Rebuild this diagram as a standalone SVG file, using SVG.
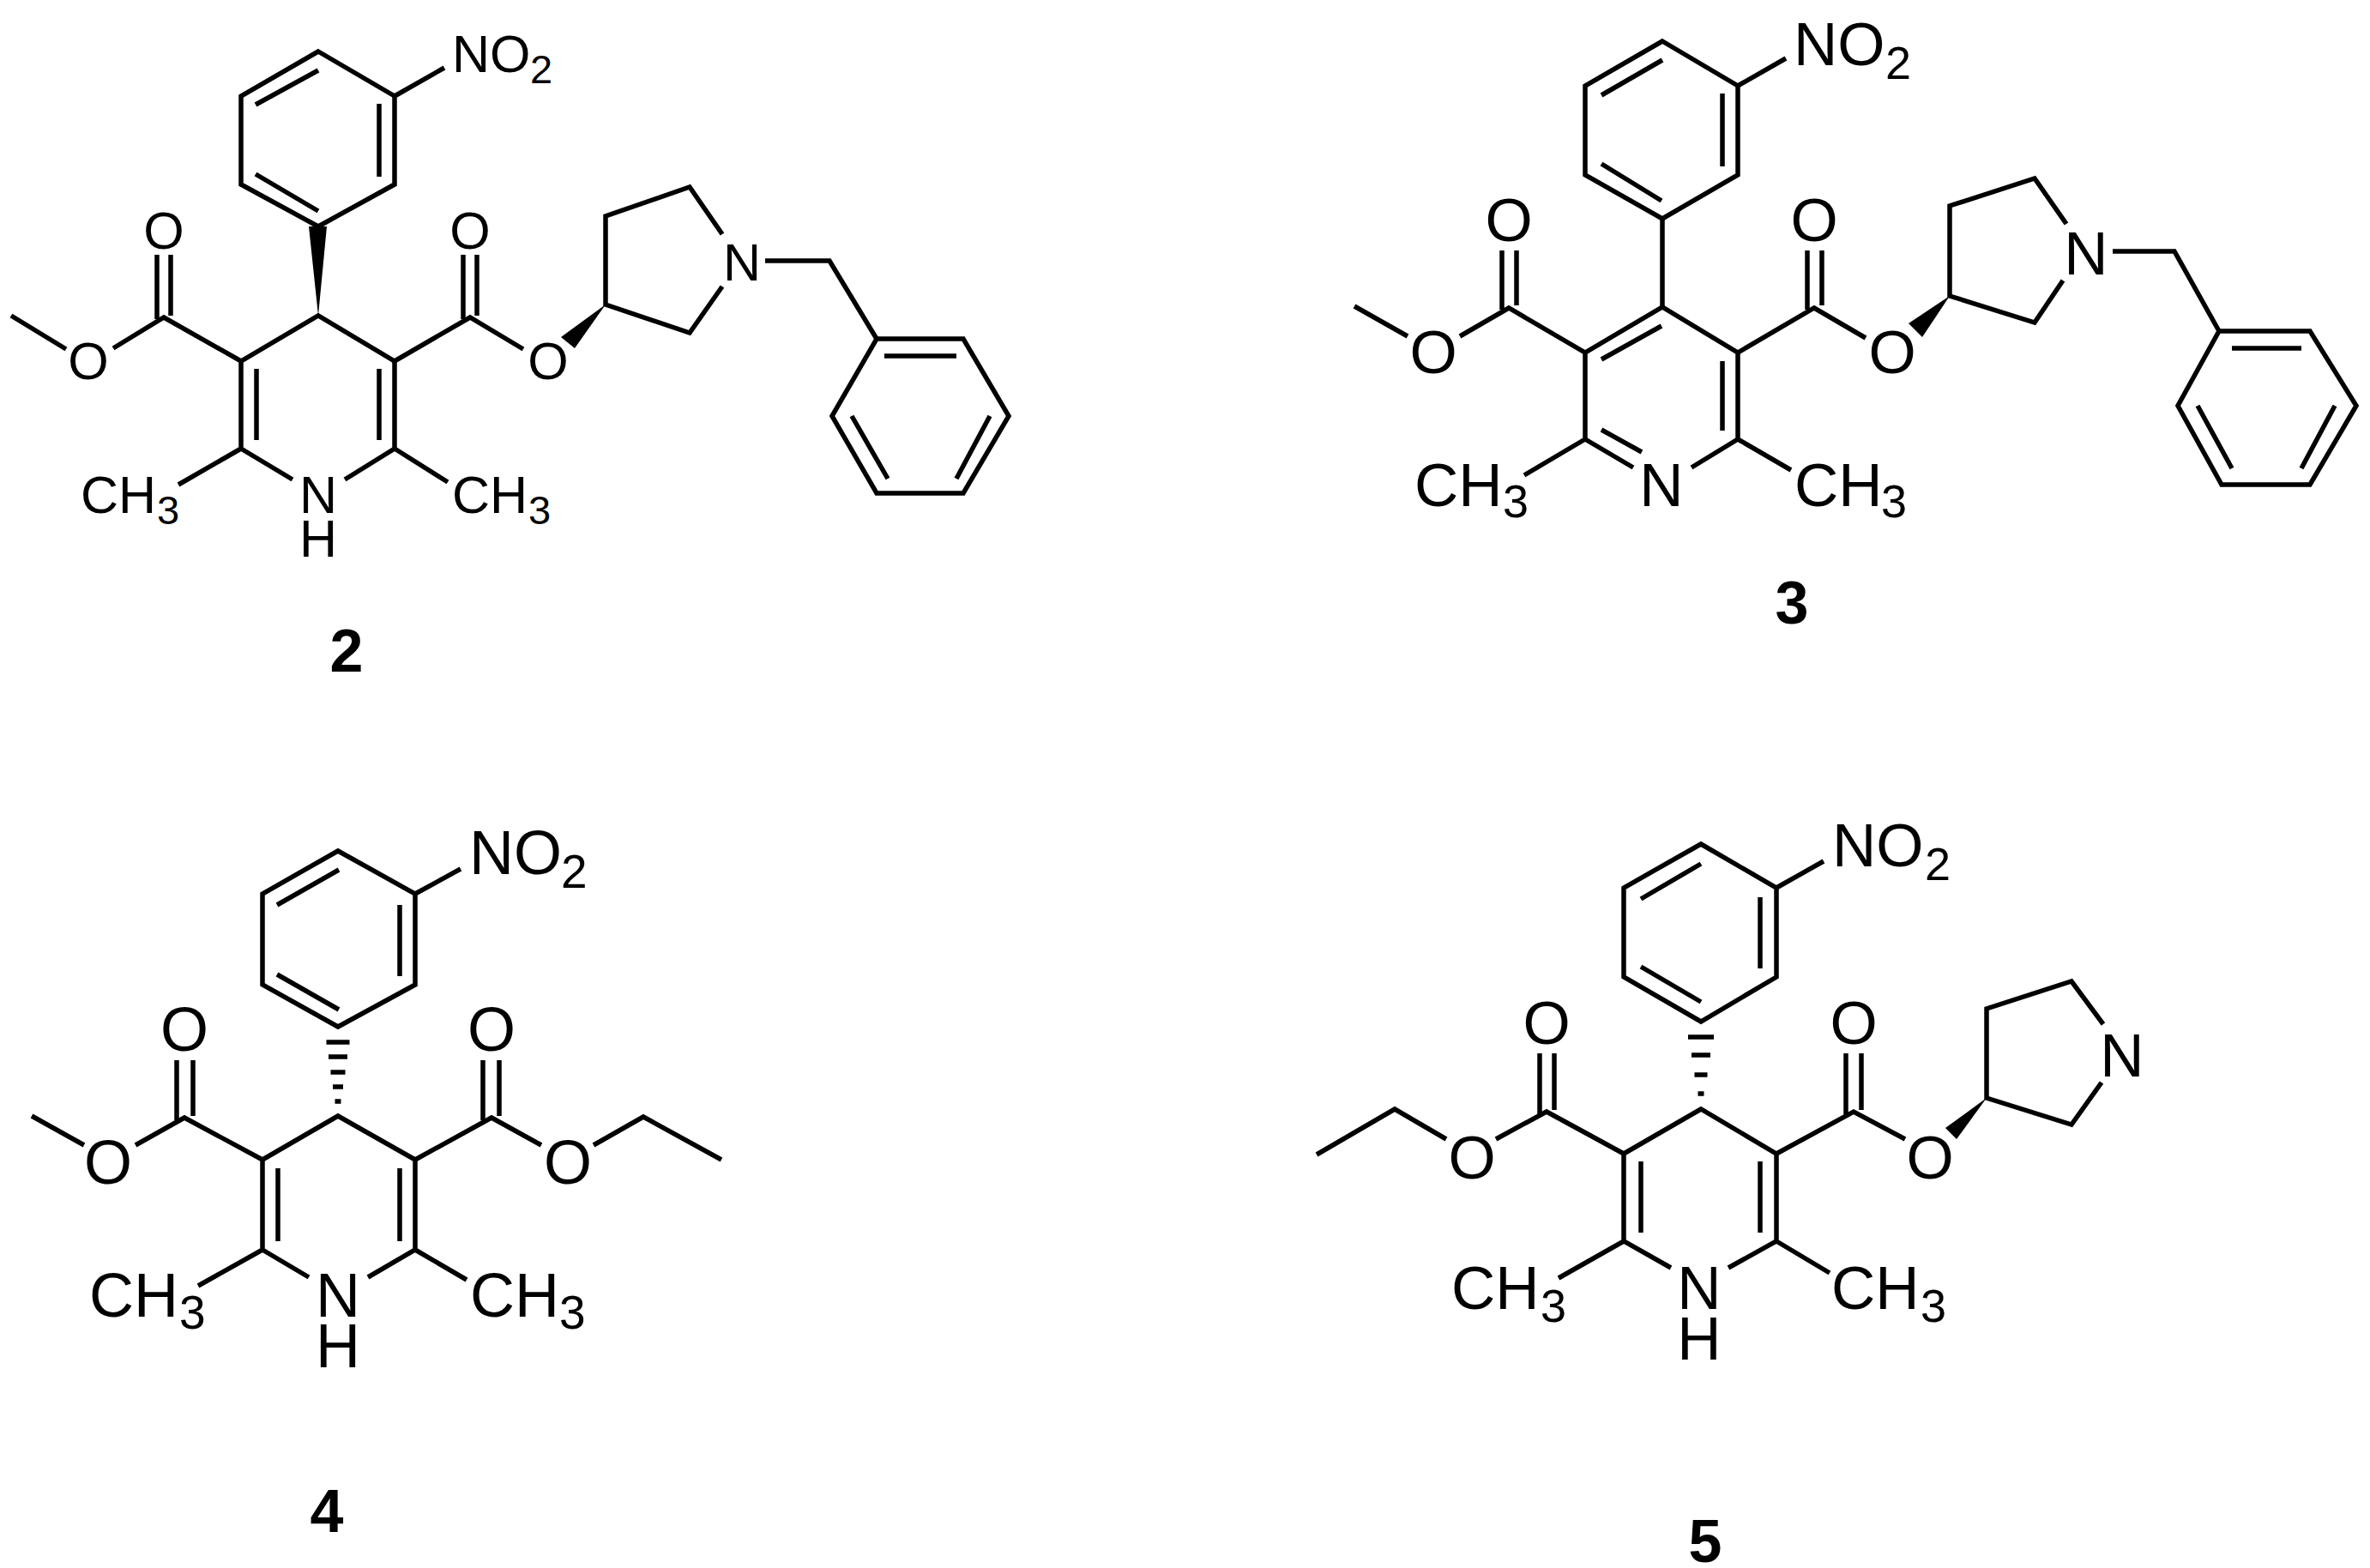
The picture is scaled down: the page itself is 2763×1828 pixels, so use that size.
<svg xmlns="http://www.w3.org/2000/svg" width="2763" height="1828" viewBox="0 0 2763 1828">
<style>
.b{fill:none;stroke:#000;stroke-width:5.5;stroke-linecap:butt;stroke-linejoin:miter}
.w{fill:#000;stroke:none}
text{font-family:"Liberation Sans",Arial,sans-serif;fill:#000}
.m{text-anchor:middle}
.f58{font-size:61px}.f66{font-size:71px}.f68{font-size:72px}
.s58{font-size:47px}.s66{font-size:54px}.s68{font-size:55px}
.n{font-size:70px;font-weight:bold;text-anchor:middle}
</style>
<rect width="2763" height="1828" fill="#fff"/>
<g id="connectors">
<g id="bonds-2">
<path class="b" d="M371 60L460 112V215L371 264L281 215V112ZM298 122L371 82M442 121V206M298 203L371 246"/>
<path class="b" d="M460 112L518 79"/>
<path class="b" d="M132 406L191 370L281 421L371 368L460 421L548 370L610 407M77 407L13 368"/>
<path class="b" d="M281 421V523L341 559M460 421V523L402 559M299 430V513M442 430V513M281 523L208 565M460 523L522 562"/>
<path class="b" d="M183 372V297M199 368V297M540 372V297M556 368V297"/>
<path class="b" d="M842 273L804 218L706 252V355L804 388L842 334M892 304H967L1022 395"/>
<path class="b" d="M1022 395H1123L1176 485L1123 575H1022L970 485ZM1031 415H1115M993 485L1035 558M1154 485L1115 558"/>
<path class="w" d="M371 368L360 264H381Z"/>
<path class="w" d="M706 355L654 393L670 406Z"/>
</g>
<g id="bonds-3">
<path class="b" d="M1938 48L2026 100V204L1938 255L1848 204V100ZM1867 111L1938 70M2008 109V194M1867 191L1937 234"/>
<path class="b" d="M2026 100L2082 68M1938 255V358"/>
<path class="b" d="M1702 392L1759 359L1848 411L1938 358L2026 411L2115 359L2175 394M1641 392L1579 357"/>
<path class="b" d="M1867 419L1937 380M1848 411V512L1904 545M2026 411V512L1972 545M2008 421V502M1867 501L1914 527M1848 512L1777 554M2026 512L2088 548"/>
<path class="b" d="M1751 361V292M1768 356V292M2107 361V292M2124 356V292"/>
<path class="b" d="M2409 261L2372 208L2273 240V345L2372 376L2405 327M2463 293H2535L2587 386"/>
<path class="b" d="M2587 386H2693L2747 473L2693 565H2590L2539 473ZM2602 406H2683M2562 473L2602 546M2722 473L2683 546"/>
<path class="w" d="M2273 345L2225 377L2241 393Z"/>
</g>
<g id="bonds-4">
<path class="b" d="M394 992L484 1042V1148L394 1197L306 1148V1042ZM323 1055L395 1014M466 1055V1138M323 1136L395 1177"/>
<path class="b" d="M484 1042L537 1013"/>
<path class="b" d="M158 1335L215 1303L306 1352L394 1301L484 1352L573 1303L631 1335M98 1335L37 1301M692 1335L750 1302L841 1352"/>
<path class="b" d="M306 1352V1457L360 1489M484 1352V1457L429 1489M324 1362V1447M466 1362V1447M306 1457L231 1499M484 1457L544 1492"/>
<path class="b" d="M206 1306V1236M225 1301V1236M563 1306V1236M582 1301V1236"/>
<path class="b" d="M380.500 1215H407.500M383 1232H405M385.500 1250H402.500M388 1267H400M390.500 1284H397.500"/>
</g>
<g id="bonds-5">
<path class="b" d="M1983 984L2071 1035V1139L1983 1191L1893 1139V1035ZM1913 1048L1983 1007M2052 1046V1129M1913 1127L1983 1168"/>
<path class="b" d="M2071 1035L2126 1004"/>
<path class="b" d="M1744 1328L1803 1296L1893 1345L1983 1293L2071 1345L2161 1296L2221 1328M1686 1328L1626 1293L1535 1346"/>
<path class="b" d="M1893 1345V1447L1948 1478M2071 1345V1447L2015 1478M1913 1354V1437M2052 1354V1437M1893 1447L1817 1490M2071 1447L2133 1484"/>
<path class="b" d="M1795 1299V1228M1812 1294V1228M2152 1299V1228M2170 1294V1228"/>
<path class="b" d="M2452 1194L2415 1144L2316 1176V1280L2415 1311L2450 1262"/>
<path class="b" d="M1968 1209H1998M1972 1230H1994M1975.500 1253H1990.500M1979.500 1275H1986.500"/>
<path class="w" d="M2316 1280L2268 1315L2281 1328Z"/>
</g>
</g>
<g id="compound-2" class="f58">
<text x="527" y="84">NO<tspan class="s58" x="618" y="97">2</tspan></text>
<text x="94" y="598">CH<tspan class="s58" x="183" y="611">3</tspan></text>
<text x="527" y="598">CH<tspan class="s58" x="616" y="611">3</tspan></text>
<text class="m" x="371" y="598">N</text><text class="m" x="371" y="649">H</text>
<text class="m" x="103" y="442">O</text><text class="m" x="191" y="290">O</text><text class="m" x="548" y="290">O</text><text class="m" x="639" y="442">O</text>
<text class="m" x="865" y="327">N</text>
<text class="n" x="404" y="783">2</text>
</g>
<g id="compound-3" class="f66">
<text x="2091" y="76">NO<tspan class="s66" x="2198" y="92">2</tspan></text>
<text x="1649" y="590">CH<tspan class="s66" x="1752" y="603">3</tspan></text>
<text x="2092" y="590">CH<tspan class="s66" x="2193" y="603">3</tspan></text>
<text class="m" x="1937" y="590">N</text>
<text class="m" x="1671" y="435">O</text><text class="m" x="1759" y="281">O</text><text class="m" x="2115" y="281">O</text><text class="m" x="2206" y="435">O</text>
<text class="m" x="2432" y="320">N</text>
<text class="n" x="2089" y="727">3</text>
</g>
<g id="compound-4" class="f68">
<text x="547" y="1019">NO<tspan class="s68" x="654" y="1035">2</tspan></text>
<text x="104" y="1535">CH<tspan class="s68" x="209" y="1549">3</tspan></text>
<text x="548" y="1535">CH<tspan class="s68" x="652" y="1549">3</tspan></text>
<text class="m" x="394" y="1535">N</text><text class="m" x="394" y="1594">H</text>
<text class="m" x="126" y="1380">O</text><text class="m" x="215" y="1225">O</text><text class="m" x="573" y="1225">O</text><text class="m" x="662" y="1380">O</text>
<text class="n" x="381" y="1786">4</text>
</g>
<g id="compound-5" class="f66">
<text x="2136" y="1010">NO<tspan class="s66" x="2244" y="1026">2</tspan></text>
<text x="1692" y="1526">CH<tspan class="s66" x="1796" y="1541">3</tspan></text>
<text x="2135" y="1526">CH<tspan class="s66" x="2239" y="1541">3</tspan></text>
<text class="m" x="1981" y="1526">N</text><text class="m" x="1981" y="1585">H</text>
<text class="m" x="1716" y="1374">O</text><text class="m" x="1803" y="1217">O</text><text class="m" x="2161" y="1217">O</text><text class="m" x="2250" y="1374">O</text>
<text class="m" x="2474" y="1255">N</text>
<text class="n" x="1988" y="1821">5</text>
</g>
</svg>
